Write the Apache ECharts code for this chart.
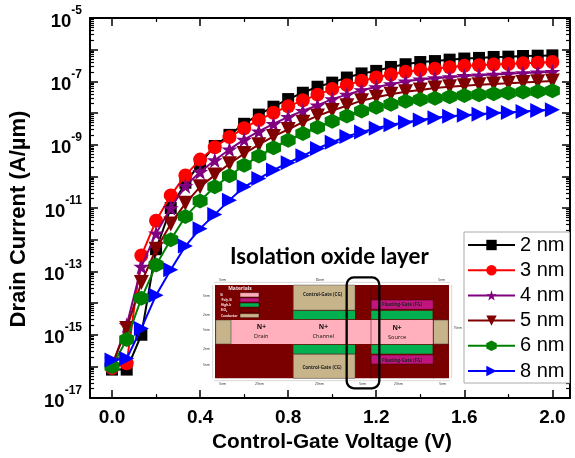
<!DOCTYPE html>
<html><head><meta charset="utf-8">
<style>html,body{margin:0;padding:0;background:#fff}#c{width:575px;height:458px}</style>
<script src="https://cdn.jsdelivr.net/npm/echarts@6/dist/echarts.min.js"></script>
</head><body><div id="c"></div>
<script>
const voltages = [0,0.0667,0.1333,0.2,0.2667,0.3333,0.4,0.4667,0.5333,0.6,0.6667,0.7333,0.8,0.8667,0.9333,1.0,1.0667,1.1333,1.2,1.2667,1.3333,1.4,1.4667,1.5333,1.6,1.6667,1.7333,1.8,1.8667,1.9333,2.0];
// log10 of drain current
const nm2 = [-16.1,-16.1,-15.0,-12.3,-11.0,-10.2,-9.6,-9.04,-8.69,-8.34,-8.05,-7.8,-7.56,-7.36,-7.17,-7.04,-6.88,-6.75,-6.67,-6.545,-6.46,-6.39,-6.36,-6.315,-6.28,-6.26,-6.23,-6.22,-6.2,-6.19,-6.18];
const nm3 = [-16.05,-15.9,-12.5,-11.4,-10.6,-9.97,-9.47,-9.08,-8.76,-8.48,-8.22,-7.99,-7.79,-7.6,-7.42,-7.245,-7.12,-6.98,-6.88,-6.785,-6.7,-6.64,-6.6,-6.555,-6.51,-6.49,-6.47,-6.45,-6.43,-6.41,-6.39];
const nm4 = [-16.0,-14.7,-12.85,-11.8,-11.0,-10.3,-9.86,-9.49,-9.15,-8.84,-8.58,-8.34,-8.12,-7.93,-7.76,-7.56,-7.42,-7.28,-7.18,-7.09,-7.0,-6.94,-6.9,-6.87,-6.83,-6.81,-6.785,-6.76,-6.74,-6.72,-6.7];
const nm5 = [-15.95,-14.8,-13.35,-12.3,-11.5,-10.85,-10.33,-9.96,-9.6,-9.28,-9.0,-8.74,-8.52,-8.29,-8.09,-7.92,-7.77,-7.61,-7.5,-7.41,-7.33,-7.27,-7.21,-7.17,-7.14,-7.11,-7.08,-7.06,-7.04,-7.01,-6.99];
const nm6 = [-16.0,-15.15,-13.85,-12.8,-12.0,-11.27,-10.78,-10.33,-9.98,-9.65,-9.36,-9.1,-8.86,-8.65,-8.45,-8.26,-8.09,-7.94,-7.82,-7.72,-7.63,-7.57,-7.53,-7.49,-7.45,-7.42,-7.39,-7.37,-7.34,-7.32,-7.3];
const nm8 = [-15.8,-15.75,-14.8,-13.75,-12.95,-12.2,-11.65,-11.2,-10.75,-10.33,-10.07,-9.8,-9.57,-9.35,-9.12,-8.92,-8.74,-8.6,-8.48,-8.37,-8.29,-8.22,-8.15,-8.1,-8.07,-8.04,-8.0,-7.98,-7.95,-7.92,-7.9];
const seriesNames = ['2 nm','3 nm','4 nm','5 nm','6 nm','8 nm'];
const seriesValues = [nm2,nm3,nm4,nm5,nm6,nm8];
const seriesColors = ['#000000','#ff0000','#800080','#800000','#008000','#0000ff'];
const seriesSymbols = ['rect','circle',
 'path://M50 0L61.8 36.2L100 36.2L69.1 58.6L80.9 95L50 72.6L19.1 95L30.9 58.6L0 36.2L38.2 36.2Z',
 'path://M0 0L100 0L50 100Z',
 'path://M50 0L93.3 25L93.3 75L50 100L6.7 75L6.7 25Z',
 'path://M0 0L100 50L0 100Z'];
const seriesSizes = [12,14,16,15,15,15];
const yLabelExps = [-5,-7,-9,-11,-13,-15,-17];
const yDecades = [-17,-16,-15,-14,-13,-12,-11,-10,-9,-8,-7,-6,-5];
const xMajorTicks = [0,0.4,0.8,1.2,1.6,2.0];
const xMinorTicks = [0.2,0.6,1.0,1.4,1.8];
const yMinorMultipliers = [2,3,4,5,6,7,8,9];

const yMinorTicks = [];
yDecades.slice(0,-1).forEach(d=>yMinorMultipliers.forEach(m=>yMinorTicks.push(m*Math.pow(10,d))));

const majorTick = {show:true,inside:true,length:8,lineStyle:{color:'#000',width:1.5}};
const minorTick = {show:true,inside:true,length:4,lineStyle:{color:'#000',width:1.2}};
const axisLine = {show:true,onZero:false,lineStyle:{color:'#000',width:2}};
const noLine = {show:false,onZero:false};
const F = '"Liberation Sans",Arial,sans-serif';

function xAxis(pos,lab,ticks,tickStyle,showLine){return {type:'value',position:pos,min:-0.1,max:2.08,interval:0.1,
  axisLine:showLine?axisLine:noLine,axisTick:Object.assign({customValues:ticks},tickStyle),
  splitLine:{show:false},minorTick:{show:false},
  axisLabel:{show:lab,margin:10,customValues:ticks,color:'#000',fontFamily:F,fontWeight:'bold',fontSize:19,formatter:v=>v.toFixed(1)},
  name:lab?'Control-Gate Voltage (V)':'',nameLocation:'middle',nameGap:31,
  nameTextStyle:{color:'#000',fontFamily:F,fontWeight:'bold',fontSize:20.8,padding:[0,0,0,4]}};}
function yAxis(pos,lab,ticks,tickStyle,showLine){
  const o={type:'log',logBase:10,position:pos,min:1e-17,max:1e-5,interval:1,
  axisLine:showLine?axisLine:noLine,axisTick:ticks?Object.assign({customValues:ticks},tickStyle):tickStyle,
  splitLine:{show:false},minorTick:{show:false},
  axisLabel:{show:lab,margin:8,color:'#000',formatter:v=>{const e=Math.round(Math.log10(v));return yLabelExps.includes(e)?`{b|10}{s|${e}}`:'';},
   rich:{b:{fontFamily:F,fontWeight:'bold',fontSize:18.5,padding:[7,0,0,0]},s:{fontFamily:F,fontWeight:'bold',fontSize:12,padding:[0,0,14,0]}}},
  name:lab?'Drain Current (A/\u00b5m)':'',nameLocation:'middle',nameGap:60,
  nameTextStyle:{color:'#000',fontFamily:F,fontWeight:'bold',fontSize:22,padding:[0,22,0,0]}};
  return o;}

// Inset schematic, drawn in its own coordinates
const rect=(x1,y1,x2,y2,fill,stroke)=>({type:'rect',shape:{x:x1,y:y1,width:x2-x1,height:y2-y1},style:{fill,stroke:stroke||null,lineWidth:stroke?1.5:0}});
const txt=(x,y,text,size,weight,color)=>({type:'text',x,y,style:{text,x:0,y:0,fill:color||'#111',font:`${weight||'normal'} ${size}px "Open Sans",sans-serif`,align:'center',verticalAlign:'middle'}});
const seg=(x1,y1,x2,y2,c,w)=>({type:'line',shape:{x1,y1,x2,y2},style:{stroke:c||'#555',lineWidth:w||1.2}});
const DR='#7a0000',SI='#ffb0bc',CO='#c8b48a',GR='#00b050',MG='#c0157f';
const inset=[
 rect(75,195,777,475,DR),
 rect(123,300,730,372,SI),
 rect(77,300,123,372,CO,'#333'),rect(730,300,775,372,CO,'#333'),
 rect(310,195,495,270,CO,'#555'),rect(310,272,495,298,GR),
 rect(310,374,495,401,GR),rect(310,403,495,475,CO,'#555'),
 rect(543,272,728,298,GR),rect(543,374,728,401,GR),
 rect(543,240,730,268,MG,'#400'),rect(543,405,730,432,MG,'#400'),
 seg(543,195,543,475,'#500',1.5),seg(730,195,730,475,'#500',1.5),
 txt(150,207,'Materials',15,'bold','#f5e8e8'),
 rect(150,218,207,231,SI,'#300'),rect(150,234,207,246,MG,'#300'),rect(150,249,207,261,GR,'#300'),rect(150,265,207,277,DR,'#300'),rect(150,281,207,293,CO,'#300'),
 txt(95,224,'Si',9.5,'bold','#f5e8e8'),txt(110,240,'Poly-Si',9.5,'bold','#f5e8e8'),txt(108,256,'High-k',9.5,'bold','#f5e8e8'),txt(102,271,'SiO\u2082',9.5,'bold','#f5e8e8'),txt(118,288,'Conductor',9.5,'bold','#f5e8e8'),
 txt(214,322,'N+',20,'bold'),txt(214,350,'Drain',17),
 txt(400,322,'N+',20,'bold'),txt(400,350,'Channel',17),
 txt(621,323,'N+',20,'bold'),txt(621,351,'Source',17),
 txt(398,224,'Control-Gate (CG)',13.5,'bold','#222'),txt(396,443,'Control-Gate (CG)',13.5,'bold','#222'),
 txt(636,253,'Floating-Gate (FG)',13.5,'bold','#222'),txt(636,422,'Floating-Gate (FG)',13.5,'bold','#222'),
 seg(72,187,780,187,'#888',1),seg(72,482,780,482,'#888',1),seg(68,195,68,475,'#888',1),seg(785,195,785,475,'#888',1),
 txt(98,181,'5nm',9.5),txt(390,181,'65nm',9.5),txt(755,181,'5nm',9.5),
 txt(49,229,'5nm',9.5),txt(49,284,'2nm',9.5),txt(49,331,'5nm',9.5),txt(49,387,'2nm',9.5),txt(49,436,'5nm',9.5),
 txt(98,491,'5nm',9.5),txt(208,491,'20nm',9.5),txt(388,491,'20nm',9.5),txt(518,491,'5nm',9.5),txt(625,491,'20nm',9.5),txt(758,491,'5nm',9.5),
 txt(803,325,'15nm',9.5),
 {type:'rect',shape:{x:470,y:172,width:98,height:333,r:22},style:{fill:null,stroke:'#000',lineWidth:7}},
 {type:'text',x:418,y:110,style:{text:'Isolation oxide layer',x:0,y:0,fill:'#000',font:'bold 67px Lato,sans-serif',align:'center',verticalAlign:'middle'}}
];

const chart=echarts.init(document.getElementById('c'),null,{renderer:'canvas'});
chart.setOption({
 animation:false,backgroundColor:'#fff',
 grid:{left:87,right:5,top:18,bottom:57,containLabel:false},
 xAxis:[xAxis('bottom',true,xMajorTicks,majorTick,true),xAxis('top',false,xMajorTicks,majorTick,true),
        xAxis('bottom',false,xMinorTicks,minorTick,false),xAxis('top',false,xMinorTicks,minorTick,false)],
 yAxis:[yAxis('left',true,null,majorTick,true),yAxis('right',false,null,majorTick,true),
        yAxis('left',false,yMinorTicks,minorTick,false),yAxis('right',false,yMinorTicks,minorTick,false)],
 legend:{orient:'vertical',left:464,top:232,padding:[3,5,2,3],itemWidth:47,itemHeight:13,itemGap:5.2,
  backgroundColor:'#fff',borderColor:'#aaa',borderWidth:1,borderRadius:0,
  textStyle:{color:'#000',fontFamily:F,fontSize:20,lineHeight:20},data:seriesNames},
 series:seriesNames.map((n,i)=>({name:n,type:'line',xAxisIndex:0,yAxisIndex:0,
  data:voltages.map((v,k)=>[v,Math.pow(10,seriesValues[i][k])]),
  symbol:seriesSymbols[i],symbolSize:seriesSizes[i],showAllSymbol:true,
  lineStyle:{color:seriesColors[i],width:2},itemStyle:{color:seriesColors[i]},z:2+i})),
 graphic:[{type:'group',x:190,y:220,scaleX:1/3,scaleY:1/3,z:100,children:inset}]
});
</script></body></html>
